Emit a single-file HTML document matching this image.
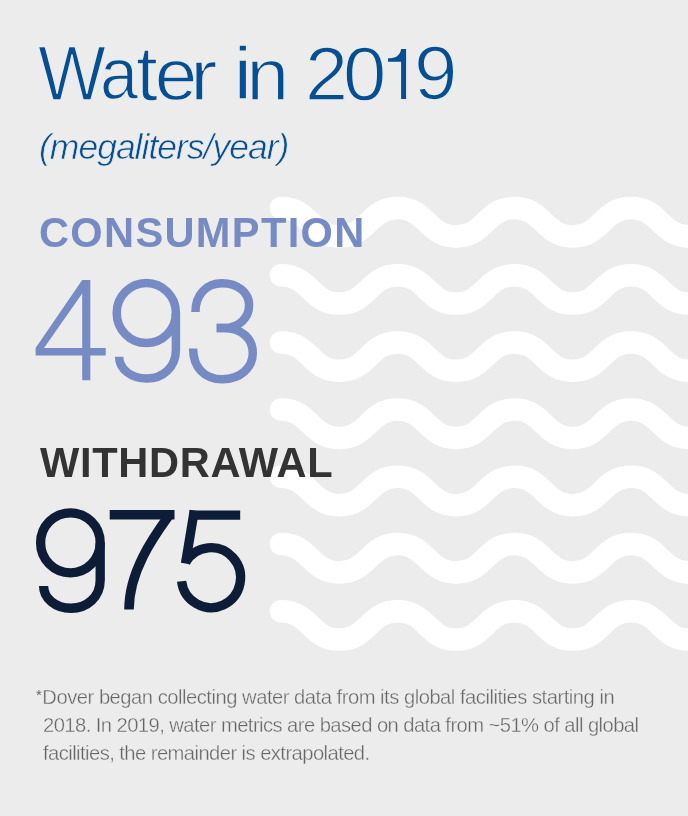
<!DOCTYPE html>
<html>
<head>
<meta charset="utf-8">
<style>
html,body{margin:0;padding:0;}
body{width:688px;height:816px;background:#ececec;position:relative;overflow:hidden;font-family:"Liberation Sans",sans-serif;}
.t{position:absolute;white-space:nowrap;line-height:1;}
.tl{position:absolute;transform-origin:0 0;font-size:76.5px;line-height:1;color:#044f93;-webkit-text-stroke:1.4px #ececec;white-space:pre;}
#tl0{left:37.52px;top:35.63px;transform:scale(0.9391,1.0059);}
#tl1{left:99.62px;top:38.06px;transform:scale(0.8947,0.9600);}
#tl2{left:136.14px;top:34.70px;transform:scale(1.0278,1.0125);}
#tl3{left:154.80px;top:37.82px;transform:scale(1.0000,0.9700);}
#tl4{left:190.34px;top:38.83px;transform:scale(1.0765,0.9487);}
#tl5{left:232.54px;top:38.40px;transform:scale(1.1600,0.9604);}
#tl6{left:246.60px;top:37.35px;transform:scale(1.0000,0.9769);}
#tl7{left:304.54px;top:36.52px;transform:scale(1.0121,0.9902);}
#tl8{left:343.33px;top:36.09px;transform:scale(1.0171,0.9923);}
#tl9{left:383.89px;top:37.11px;transform:scale(0.5871,0.9824);}
#tl10{left:413.92px;top:36.36px;transform:scale(1.0206,0.9865);}
#sub{left:39.3px;top:129.5px;font-size:35.5px;letter-spacing:-1px;-webkit-text-stroke:0.6px #ececec;font-style:italic;color:#044f93;}
#cons{left:38.9px;top:212px;font-size:41.6px;font-weight:bold;color:#768ac4;letter-spacing:1.33px;}
#wd{left:40px;top:442px;font-size:41.6px;font-weight:bold;color:#333333;letter-spacing:0.68px;}
.dg{position:absolute;font-size:148px;line-height:1;transform-origin:0 0;-webkit-text-stroke:4.5px #ececec;white-space:nowrap;}
#d1{left:29.60px;top:254.41px;color:#768ac4;transform:scale(1.0000,1.0235);-webkit-text-stroke-width:4.5px;}
#d2{left:102.38px;top:255.55px;color:#768ac4;transform:scale(1.0797,1.0238);-webkit-text-stroke-width:4.5px;}
#d3{left:178.33px;top:255.43px;color:#768ac4;transform:scale(1.0859,1.0248);-webkit-text-stroke-width:4.5px;}
#d4{left:26.08px;top:485.59px;color:#0d1d38;transform:scale(1.0906,1.0178);-webkit-text-stroke-width:3.5px;}
#d5{left:100.22px;top:484.87px;color:#0d1d38;transform:scale(1.0203,1.0173);-webkit-text-stroke-width:3.5px;}
#d6{left:168.61px;top:485.94px;color:#0d1d38;transform:scale(1.0364,1.0150);-webkit-text-stroke-width:3.5px;}

#foot{position:absolute;left:43px;top:683px;width:660px;white-space:nowrap;font-size:20.2px;line-height:28px;letter-spacing:-0.56px;color:#666666;-webkit-text-stroke:0.35px #ececec;text-indent:-8px;}
svg{position:absolute;left:0;top:0;}
.ast{font-size:15px;line-height:0;position:relative;top:-4px;margin-left:1px;margin-right:1px;-webkit-text-stroke-width:0;}
body>div:not(.dg){will-change:transform;}
</style>
</head>
<body>
<svg width="688" height="816" viewBox="0 0 688 816">
<g fill="none" stroke="#ffffff" stroke-width="22.5" stroke-linecap="round">
<path d="M281 0 C310.18 0 310.18 28.4 339.35 28.4 C368.53 28.4 368.53 0 397.70 0 C426.88 0 426.88 28.4 456.05 28.4 C485.23 28.4 485.23 0 514.40 0 C543.58 0 543.58 28.4 572.75 28.4 C601.93 28.4 601.93 0 631.10 0 C660.28 0 660.28 28.4 689.45 28.4 C718.63 28.4 718.63 0 747.80 0" transform="translate(0,208.0)"/>
<path d="M281 0 C310.18 0 310.18 28.4 339.35 28.4 C368.53 28.4 368.53 0 397.70 0 C426.88 0 426.88 28.4 456.05 28.4 C485.23 28.4 485.23 0 514.40 0 C543.58 0 543.58 28.4 572.75 28.4 C601.93 28.4 601.93 0 631.10 0 C660.28 0 660.28 28.4 689.45 28.4 C718.63 28.4 718.63 0 747.80 0" transform="translate(0,275.2)"/>
<path d="M281 0 C310.18 0 310.18 28.4 339.35 28.4 C368.53 28.4 368.53 0 397.70 0 C426.88 0 426.88 28.4 456.05 28.4 C485.23 28.4 485.23 0 514.40 0 C543.58 0 543.58 28.4 572.75 28.4 C601.93 28.4 601.93 0 631.10 0 C660.28 0 660.28 28.4 689.45 28.4 C718.63 28.4 718.63 0 747.80 0" transform="translate(0,342.4)"/>
<path d="M281 0 C310.18 0 310.18 28.4 339.35 28.4 C368.53 28.4 368.53 0 397.70 0 C426.88 0 426.88 28.4 456.05 28.4 C485.23 28.4 485.23 0 514.40 0 C543.58 0 543.58 28.4 572.75 28.4 C601.93 28.4 601.93 0 631.10 0 C660.28 0 660.28 28.4 689.45 28.4 C718.63 28.4 718.63 0 747.80 0" transform="translate(0,409.6)"/>
<path d="M281 0 C310.18 0 310.18 28.4 339.35 28.4 C368.53 28.4 368.53 0 397.70 0 C426.88 0 426.88 28.4 456.05 28.4 C485.23 28.4 485.23 0 514.40 0 C543.58 0 543.58 28.4 572.75 28.4 C601.93 28.4 601.93 0 631.10 0 C660.28 0 660.28 28.4 689.45 28.4 C718.63 28.4 718.63 0 747.80 0" transform="translate(0,476.8)"/>
<path d="M281 0 C310.18 0 310.18 28.4 339.35 28.4 C368.53 28.4 368.53 0 397.70 0 C426.88 0 426.88 28.4 456.05 28.4 C485.23 28.4 485.23 0 514.40 0 C543.58 0 543.58 28.4 572.75 28.4 C601.93 28.4 601.93 0 631.10 0 C660.28 0 660.28 28.4 689.45 28.4 C718.63 28.4 718.63 0 747.80 0" transform="translate(0,544.0)"/>
<path d="M281 0 C310.18 0 310.18 28.4 339.35 28.4 C368.53 28.4 368.53 0 397.70 0 C426.88 0 426.88 28.4 456.05 28.4 C485.23 28.4 485.23 0 514.40 0 C543.58 0 543.58 28.4 572.75 28.4 C601.93 28.4 601.93 0 631.10 0 C660.28 0 660.28 28.4 689.45 28.4 C718.63 28.4 718.63 0 747.80 0" transform="translate(0,611.2)"/>
</g>
<g fill="none" stroke="#0d1d38" stroke-width="9.3" stroke-linecap="butt"><path d="M189.5 515.15 H240.2"/><path d="M194.3 510.5 L185.5 563.5"/><path d="M181.6 581.3 A29.6 30 0 1 0 185.5 562.4"/></g>
<g fill="none" stroke="#768ac4" stroke-width="8.5" stroke-linecap="butt">
<ellipse cx="146.3" cy="313" rx="29.6" ry="30"/>
<path d="M175.9 313 L175.9 350 C175.9 367 163 378.6 147 378.6 C131 378.6 119.1 369 119.1 356.8"/>
<path d="M195.45 312.1 C195.45 294 207 283.2 222 283.2 C238 283.2 249.1 293 249.1 305 C249.1 318 239 328 224 328 L216.7 328"/>
<path d="M216.7 328 L224 328 C242 328 252.8 339 252.8 353 C252.8 368 240 379.2 222.5 379.2 C204 379.2 193.1 367 193.1 348.5"/>
</g>
<g fill="none" stroke="#0d1d38" stroke-width="9.3" stroke-linecap="butt">
<ellipse cx="70.4" cy="542.8" rx="29.8" ry="30"/>
<path d="M100.2 542.8 L100.2 580 C100.2 597 87 608.25 71 608.25 C55 608.25 43.6 598 43.6 586"/>
</g>
<path fill="#768ac4" fill-rule="evenodd" d="M82.2 280 L90.3 280 L90.3 347.9 L105.7 347.9 L105.7 355.6 L90.3 355.6 L90.3 380.3 L82.2 380.3 L82.2 355.6 L35.6 355.6 L35.6 347.9 Z M82.2 293.5 L82.2 347.9 L44 347.9 Z"/>
<g fill="none" stroke="#0d1d38" stroke-width="9.6" stroke-linecap="butt"><path d="M109.7 514.8 H174.5"/><path d="M169.5 514.8 C155 535 129 570 129 609.6"/></g>
<path d="M401.1 48.9 L406.1 48.9 L406.1 99 L401.1 99 L401.1 61.7 L388 61.7 L388 58.3 C395.5 58.3 400.2 55.5 401.1 48.9 Z" fill="#044f93"/>
</svg>
<div id="title"><div class="tl" id="tl0">W</div><div class="tl" id="tl1">a</div><div class="tl" id="tl2">t</div><div class="tl" id="tl3">e</div><div class="tl" id="tl4">r</div><div class="tl" id="tl5">i</div><div class="tl" id="tl6">n</div><div class="tl" id="tl7">2</div><div class="tl" id="tl8">0</div><div class="tl" id="tl10">9</div></div>
<div class="t" id="sub">(megaliters/year)</div>
<div class="t" id="cons">CONSUMPTION</div>
<div class="t" id="wd">WITHDRAWAL</div>
<div id="foot"><span style="letter-spacing:-0.49px"><span class="ast">*</span>Dover began collecting water data from its global facilities starting in</span><br>2018. In 2019, water metrics are based on data from ~51% of all global<br>facilities, the remainder is extrapolated.</div>
</body>
</html>
